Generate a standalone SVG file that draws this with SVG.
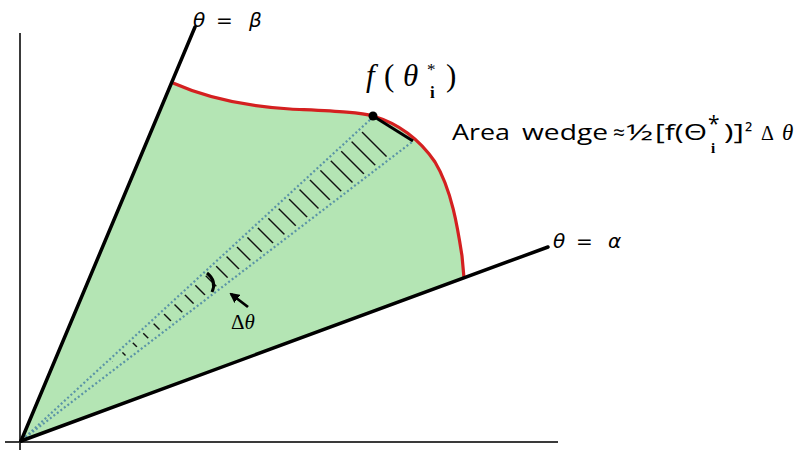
<svg xmlns="http://www.w3.org/2000/svg" width="809" height="450" viewBox="0 0 809 450">
<defs>
<style>
.ray{stroke:#000;stroke-width:3.5;fill:none;stroke-linecap:round}
.axis{stroke:#3a3a3a;stroke-width:2;fill:none}
.dot{stroke:#5b94a6;stroke-width:2.2;stroke-dasharray:2 2.4;fill:none}
.hatch{stroke:#111;stroke-width:1.4}
.sansi{font-family:"DejaVu Sans",sans-serif;font-style:italic;font-size:20px;fill:#000}
.sans{font-family:"DejaVu Sans",sans-serif;font-size:20px;fill:#000}
.lbl{font-family:"Open Sans","Liberation Sans",sans-serif;font-size:21px;fill:#000}
.ser{font-family:"Liberation Serif",serif;fill:#000}
</style>
<clipPath id="strip"><polygon points="112,362 374,121 407,141 117,362"/></clipPath>
<marker id="ah" viewBox="0 0 10 10" refX="8" refY="5" markerWidth="3.6" markerHeight="3.6" orient="auto"><path d="M0,0 L10,5 L0,10 z" fill="#000"/></marker>
</defs>
<rect width="809" height="450" fill="#fff"/>
<g id="region">
<path d="M21,441 L173,83 C200,95 240,106 290,109 C330,111 360,112 373,116 C400,124 420,140 435,162 C452,190 458,230 462,256 L464,278 Z" fill="#b4e5b4"/>
</g>
<g id="axes">
<line class="axis" x1="20" y1="33" x2="20" y2="450"/>
<line class="axis" x1="5" y1="442" x2="558" y2="442"/>
</g>
<g id="hatching" clip-path="url(#strip)">
<g class="hatch">
<line x1="-210" y1="40" x2="190" y2="440"/>
<line x1="-190" y1="40" x2="210" y2="440"/>
<line x1="-170" y1="40" x2="230" y2="440"/>
<line x1="-150" y1="40" x2="250" y2="440"/>
<line x1="-130" y1="40" x2="270" y2="440"/>
<line x1="-110" y1="40" x2="290" y2="440"/>
<line x1="-90" y1="40" x2="310" y2="440"/>
<line x1="-70" y1="40" x2="330" y2="440"/>
<line x1="-50" y1="40" x2="350" y2="440"/>
<line x1="-30" y1="40" x2="370" y2="440"/>
<line x1="-10" y1="40" x2="390" y2="440"/>
<line x1="10" y1="40" x2="410" y2="440"/>
<line x1="30" y1="40" x2="430" y2="440"/>
<line x1="50" y1="40" x2="450" y2="440"/>
<line x1="70" y1="40" x2="470" y2="440"/>
<line x1="90" y1="40" x2="490" y2="440"/>
<line x1="110" y1="40" x2="510" y2="440"/>
<line x1="130" y1="40" x2="530" y2="440"/>
<line x1="150" y1="40" x2="550" y2="440"/>
<line x1="170" y1="40" x2="570" y2="440"/>
<line x1="190" y1="40" x2="590" y2="440"/>
<line x1="210" y1="40" x2="610" y2="440"/>
<line x1="230" y1="40" x2="630" y2="440"/>
<line x1="250" y1="40" x2="650" y2="440"/>
<line x1="270" y1="40" x2="670" y2="440"/>
</g>
</g>
<g id="strip-lines">
<line class="dot" x1="22" y1="440" x2="372" y2="118"/>
<line class="dot" x1="22" y1="440" x2="412" y2="142"/>
</g>
<g id="curve">
<path d="M173,83 C200,95 240,106 290,109 C330,111 360,112 373,116 C400,124 420,140 435,162 C452,190 458,230 462,256 L464,278" fill="none" stroke="#d42020" stroke-width="3.2"/>
</g>
<g id="rays">
<line class="ray" x1="21" y1="441" x2="195" y2="27"/>
<line class="ray" x1="21" y1="441" x2="548" y2="247"/>
</g>
<g id="tangent">
<line x1="373" y1="116" x2="413" y2="141" stroke="#000" stroke-width="3"/>
<circle cx="373" cy="116" r="4.5" fill="#000"/>
</g>
<g id="angle-mark">
<path d="M207,273 Q217,281 212,292" fill="none" stroke="#000" stroke-width="3"/>
<line x1="248" y1="307" x2="231" y2="294" stroke="#000" stroke-width="2.8" marker-end="url(#ah)"/>
<text class="ser" x="231" y="329" font-size="21">Δ<tspan font-style="italic">θ</tspan></text>
</g>
<g id="label-beta">
<text class="sansi" x="193" y="27">θ</text>
<text class="sans" x="216" y="27">=</text>
<text class="sansi" x="249" y="27">β</text>
</g>
<g id="label-alpha">
<text class="sansi" x="553" y="248">θ</text>
<text class="sans" x="576" y="248">=</text>
<text class="sansi" x="608" y="248">α</text>
</g>
<g id="label-f">
<text class="ser" x="366" y="86" font-size="31" font-style="italic">f</text>
<text class="ser" x="384" y="86" font-size="31">(</text>
<text class="ser" x="403" y="86" font-size="31" font-style="italic">θ</text>
<text class="ser" x="427" y="75" font-size="17">*</text>
<text class="ser" x="430" y="98" font-size="17" font-weight="bold">i</text>
<text class="ser" x="446" y="86" font-size="31">)</text>
</g>
<g id="label-area">
<text class="lbl" x="452" y="140" textLength="58" lengthAdjust="spacingAndGlyphs">Area</text>
<text class="lbl" x="522" y="140" textLength="86" lengthAdjust="spacingAndGlyphs">wedge</text>
<text class="lbl" x="613" y="140">≈</text>
<text class="lbl" x="626" y="140" textLength="27" lengthAdjust="spacingAndGlyphs">½</text>
<text class="lbl" x="655" y="140" textLength="52" lengthAdjust="spacingAndGlyphs">[f(Θ</text>
<text class="lbl" x="708" y="131" font-size="16">*</text>
<text class="ser" x="711" y="153" font-size="15" font-weight="bold">i</text>
<text class="lbl" x="724" y="140" textLength="20" lengthAdjust="spacingAndGlyphs">)]</text>
<text class="lbl" x="745" y="140">²</text>
<text class="ser" x="761" y="140" font-size="20">Δ</text>
<text class="ser" x="782" y="140" font-size="23" font-style="italic">θ</text>
</g>
</svg>
